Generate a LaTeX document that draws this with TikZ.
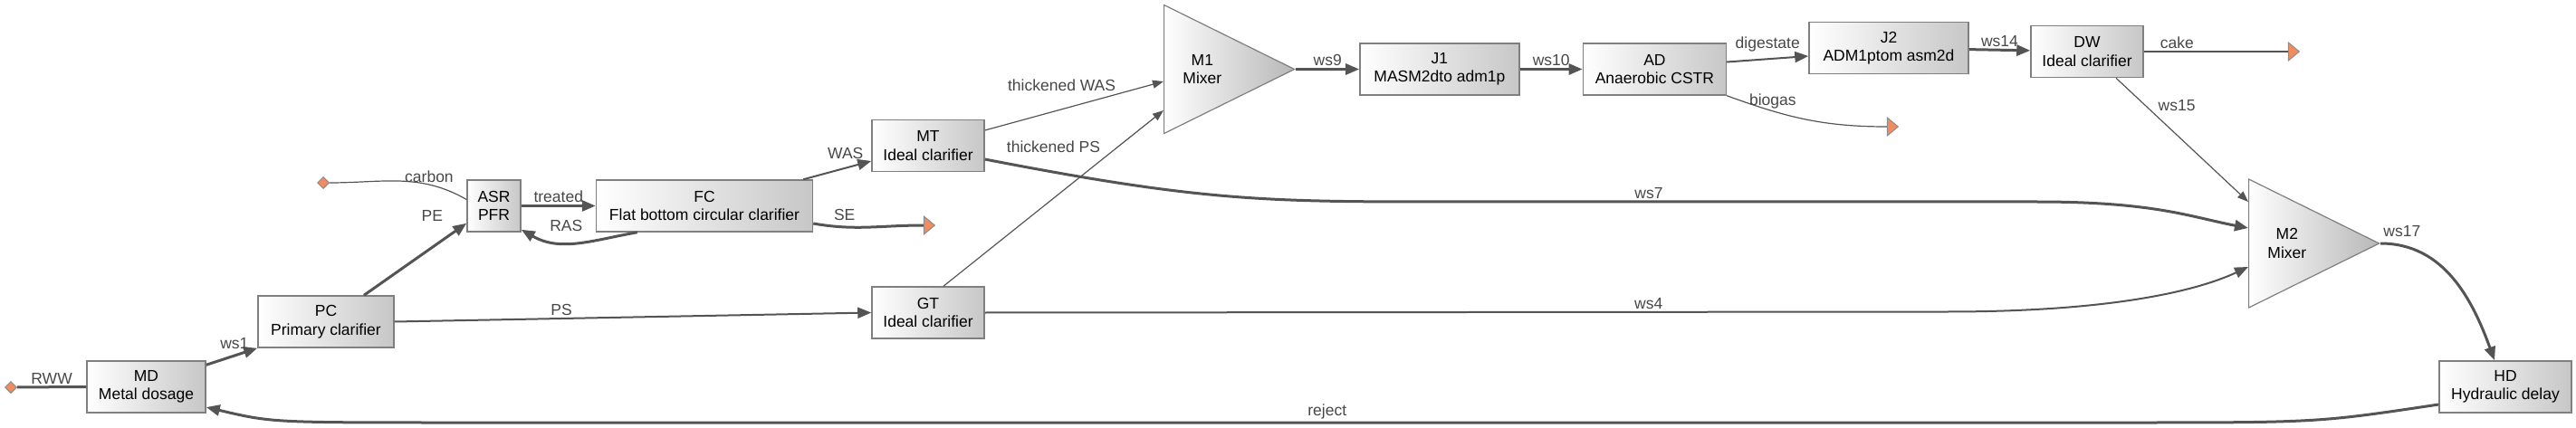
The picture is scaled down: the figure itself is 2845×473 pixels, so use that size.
\documentclass[tikz,border=0pt]{standalone}
\usepackage{fontspec}
\setmainfont{Liberation Sans}
\usetikzlibrary{arrows.meta, positioning, shapes.geometric}

\definecolor{boxline}{HTML}{7F7F7F}
\definecolor{flowgray}{HTML}{545454}
\definecolor{lblgray}{HTML}{474747}
\definecolor{sinkfill}{HTML}{F28B5E}

\begin{document}
\begin{tikzpicture}[
    x=1pt, y=1pt,
    node distance=70pt,
    font=\fontsize{17.5}{20.5}\selectfont,
    unit/.style={draw=boxline, line width=1.5pt, left color=white, right color=black!22,
        minimum height=57pt, inner sep=0pt, align=center},
    mixer/.style={isosceles triangle, isosceles triangle stretches, draw=boxline, line width=1.2pt,
        left color=white, right color=black!28, minimum width=142pt, minimum height=144pt,
        inner sep=0pt, align=center},
    sink/.style={isosceles triangle, isosceles triangle stretches, draw=black!45, line width=1pt,
        fill=sinkfill, minimum width=20pt, minimum height=12pt, inner sep=0pt},
    src/.style={diamond, draw=black!45, line width=1pt, fill=sinkfill, minimum size=13pt, inner sep=0pt},
    flow/.style={draw=flowgray, line width=3pt},
    mflow/.style={draw=flowgray, line width=2pt},
    tflow/.style={draw=flowgray, line width=1.2pt},
    thin>/.style={-{Triangle[length=12pt, width=9pt]}},
    lbl/.style={text=lblgray, inner sep=2pt},
    >={Triangle[length=15pt, width=12pt]}
]
\useasboundingbox (0,0) rectangle (2845,-473);

% units
\node[src] (RWW) at (12,-428) {};
\node[unit, minimum width=131pt] (MD) at (161.5,-427.5) {MD\\Metal dosage};
\node[unit, minimum width=150pt] (PC) at (360,-355.5) {PC\\Primary clarifier};
\node[src] (carbon) at (357,-202) {};
\node[unit, minimum width=59pt] (ASR) at (545.5,-227.5) {ASR\\PFR};
\node[unit, minimum width=239pt, right=82pt of ASR] (FC) {FC\\Flat bottom circular clarifier};
\node[sink] (SE) at (1025,-249) {};
\node[unit, minimum width=124pt] (MT) at (1025,-161) {MT\\Ideal clarifier};
\node[unit, minimum width=124pt, below=126pt of MT] (GT) {GT\\Ideal clarifier};
\node[mixer, anchor=west] (M1) at (1285,-76.5) {M1\\Mixer};
\node[unit, minimum width=176pt, right=of M1] (J1) {J1\\MASM2dto adm1p};
\node[unit, minimum width=158pt, right=69pt of J1] (AD) {AD\\Anaerobic CSTR};
\node[sink] (biogas) at (2089,-140) {};
\node[unit, minimum width=176pt] (J2) at (2086,-53) {J2\\ADM1ptom asm2d};
\node[unit, minimum width=124pt] (DW) at (2305,-57) {DW\\Ideal clarifier};
\node[sink] (cake) at (2532,-57) {};
\node[mixer, anchor=west] (M2) at (2483,-269) {M2\\Mixer};
\node[unit, minimum width=146pt] (HD) at (2767,-427.5) {HD\\Hydraulic delay};

% streams
\draw[flow] (RWW) -- (MD.west) node[lbl, midway, above] {RWW};
\draw[flow, ->] ([yshift=-5pt]MD.north east) -- (PC.south west)
    node[lbl, pos=0.55, above=4pt] {ws1};
\draw[flow, ->] ([xshift=42pt]PC.north) -- ([yshift=10pt]ASR.south west)
    node[lbl, pos=1, xshift=-38pt, yshift=8pt] {PE};
\draw[tflow] (carbon) to[out=0, in=150] node[lbl, pos=0.72, above] {carbon} ([yshift=7pt]ASR.west);
\draw[flow, ->] (ASR) -- (FC) node[lbl, midway, above] {treated};
\draw[flow, ->] ([xshift=46pt]FC.south west) to[out=190, in=-30]
    node[lbl, pos=0.6, above=9pt] {RAS} ([yshift=3pt]ASR.south east);
\draw[flow] ([yshift=-19.5pt]FC.east) to[out=-10, in=180] node[lbl, pos=0.27, above=4pt] {SE} (SE);
\draw[mflow, ->] ([xshift=-11pt]FC.north east) -- ([yshift=-17pt]MT.west)
    node[lbl, pos=0.62, above=7pt] {WAS};
\draw[mflow, ->] (PC.east) -- (GT.west) node[lbl, pos=0.35, above] {PS};

\draw[tflow, thin>] ([yshift=17pt]MT.east) -- ([yshift=-13.5pt]M1.west)
    node[lbl, pos=0.43, above=18pt] {thickened WAS};
\draw[tflow, thin>] ([xshift=17pt]GT.north) -- ([yshift=-45.5pt]M1.west)
    node[lbl, pos=0.5, yshift=57pt] {thickened PS};
\draw[flow, ->] ([yshift=-15pt]MT.east) .. controls (1330,-223) and (1400,-223) .. (1600,-223)
    -- node[lbl, pos=0.34, above] {ws7} (2250,-223)
    .. controls (2380,-223) and (2420,-240) .. ([yshift=17pt]M2.west);
\draw[mflow, ->] (GT.east) -- node[lbl, pos=0.69, above] {ws4} (2150,-344.5)
    .. controls (2330,-344.5) and (2425,-322) .. ([yshift=-26pt]M2.west);

\draw[flow, ->] (M1) -- (J1) node[lbl, midway, above] {ws9};
\draw[flow, ->] (J1) -- (AD) node[lbl, midway, above] {ws10};
\draw[mflow, ->] ([yshift=8pt]AD.east) -- ([yshift=-9pt]J2.west)
    node[lbl, midway, above=5pt] {digestate};
\draw[tflow] (AD.south east) to[out=-20, in=180] node[lbl, pos=0.28, above] {biogas} (biogas);
\draw[flow, ->] (J2) -- (DW) node[lbl, midway, above] {ws14};
\draw[mflow] (DW) -- (cake) node[lbl, pos=0.23, above] {cake};
\draw[tflow, thin>] ([xshift=32pt]DW.south) -- ([yshift=46pt]M2.west)
    node[lbl, pos=0.22, xshift=35pt] {ws15};
\draw[flow, ->] (M2.apex) to[out=0, in=110] node[lbl, pos=0.12, above=6pt] {ws17} ([xshift=-12pt]HD.north);
\draw[flow, ->] ([yshift=-19.5pt]HD.west) .. controls (2560,-467) .. (2350,-467)
    -- node[lbl, pos=0.478, above] {reject} (500,-467)
    .. controls (300,-467) .. ([yshift=-22.5pt]MD.east);

\end{tikzpicture}
\end{document}
